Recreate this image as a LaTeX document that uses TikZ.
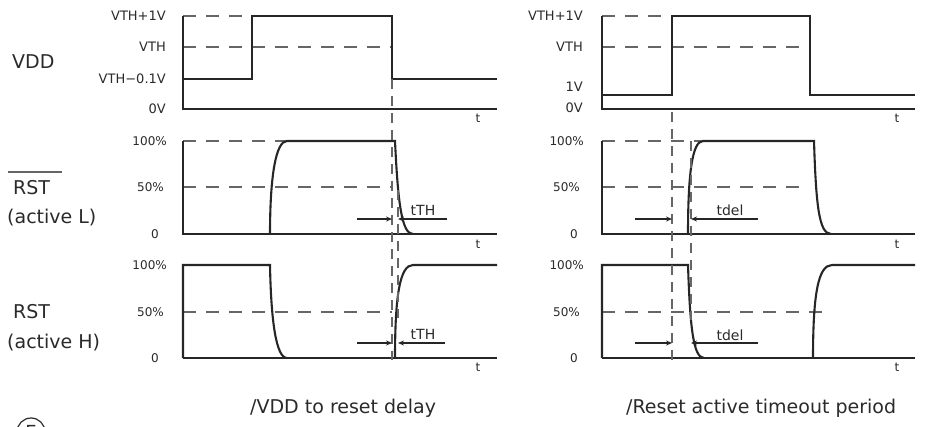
\documentclass[tikz,border=0pt]{standalone}
\usepackage{fontspec}
\setmainfont{DejaVu Sans}
\usetikzlibrary{arrows.meta}
\definecolor{ink}{HTML}{262626}
\definecolor{dashgray}{HTML}{666666}
\definecolor{txt}{HTML}{2A2A2A}
\begin{document}
\begin{tikzpicture}[x=1pt,y=-1pt,
  sig/.style={ink, line width=2.1pt, line join=miter},
  refline/.style={dashgray, line width=2.1pt, dash pattern=on 13pt off 10pt},
  vref/.style={dashgray, line width=1.9pt, dash pattern=on 10pt off 7pt},
  meas/.style={ink, line width=1.2pt, -{Stealth[length=6pt,width=5pt]}},
  lab/.style={text=txt, inner sep=0pt, font=\fontsize{13}{13}\selectfont},
  pct/.style={text=txt, inner sep=0pt, font=\fontsize{12}{12}\selectfont},
  big/.style={text=txt, inner sep=0pt, font=\fontsize{19}{19}\selectfont},
  tlab/.style={text=txt, inner sep=0pt, font=\fontsize{12}{12}\selectfont},
  dly/.style={text=txt, inner sep=0pt, font=\fontsize{14}{14}\selectfont},
  captext/.style={text=txt, inner sep=0pt, font=\fontsize{19}{19}\selectfont}]
\useasboundingbox (0,0) rectangle (925,427);

% ---------- row labels ----------
\node[big, anchor=west] (vdd) at (12,62) {VDD};
\node[big, anchor=west] (rstl) at (13,188) {RST};
\draw[dashgray, line width=2pt] (8,172) -- (62,172);
\node[big, anchor=west] (actl) at (7,218) {(active L)};
\node[big, anchor=west] (rsth) at (13,312) {RST};
\node[big, anchor=west] (acth) at (7,343) {(active H)};

% ---------- left axis labels ----------
\node[lab, anchor=east] (l1) at (166,16) {VTH+1V};
\node[lab, anchor=east] (l2) at (166,47) {VTH};
\node[lab, anchor=east] (l3) at (166,79) {VTH−0.1V};
\node[lab, anchor=east] (l4) at (166,109) {0V};
\node[pct, anchor=east] (l5) at (167,141) {100\%};
\node[pct, anchor=east] (l6) at (164,187) {50\%};
\node[pct] (l7) at (155,234) {0};
\node[pct, anchor=east] (l8) at (167,265) {100\%};
\node[pct, anchor=east] (l9) at (164,312) {50\%};
\node[pct] (l10) at (155,358) {0};

% ---------- right axis labels ----------
\node[lab, anchor=east] (r1) at (583,16) {VTH+1V};
\node[lab, anchor=east] (r2) at (583,47) {VTH};
\node[lab, anchor=east] (r3) at (583,87) {1V};
\node[lab, anchor=east] (r4) at (583,108) {0V};
\node[pct, anchor=east] (r5) at (584,141) {100\%};
\node[pct, anchor=east] (r6) at (580,187) {50\%};
\node[pct] (r7) at (574,234) {0};
\node[pct, anchor=east] (r8) at (584,265) {100\%};
\node[pct, anchor=east] (r9) at (580,312) {50\%};
\node[pct] (r10) at (574,358) {0};

% ---------- t labels ----------
\foreach \xx/\yy/\nm in {478/118/ta, 478/244/tb, 478/367/tc, 897/118/td, 897/244/te, 897/367/tf}
  \node[tlab] (\nm) at (\xx,\yy) {t};

% ================= LEFT =================
% VDD
\draw[refline] (183,16) -- (252,16);
\draw[refline] (183,47) -- (392,47);
\draw[sig] (183,16) -- (183,109) -- (497,109);
\draw[sig] (183,79) -- (252,79) -- (252,16) -- (392,16) -- (392,79) -- (497,79);
% RST active L
\draw[refline] (183,141) -- (287,141);
\draw[refline] (183,187) -- (392,187);
\draw[sig] (183,141) -- (183,234) -- (497,234);
\draw[sig] (270,234) .. controls (270,175) and (276,141) .. (287,141) -- (395,141)
  .. controls (398,205) and (402,234) .. (413,234);
% RST active H
\draw[refline] (183,312) -- (392,312);
\draw[sig] (183,358) -- (497,358);
\draw[sig] (183,358) -- (183,265) -- (270,265) .. controls (271,320) and (276,358) .. (287,358);
\draw[sig] (395,358) .. controls (395,295) and (400,265) .. (413,265) -- (497,265);
% timing guides
\coordinate (LA) at (392,79);
\coordinate (LB) at (392,360);
\coordinate (LC) at (398,190);
\coordinate (LD) at (398,318);
\draw[vref] (LA) -- (LB);
\draw[vref] (LC) -- (LD);
\coordinate (a1s) at (357,219); \coordinate (a1e) at (392,219);
\coordinate (a2s) at (447,219); \coordinate (a2e) at (398,219);
\coordinate (a3s) at (357,343); \coordinate (a3e) at (392,343);
\coordinate (a4s) at (445,343); \coordinate (a4e) at (398,343);
\draw[meas] (a1s) -- (a1e);
\draw[meas] (a2s) -- (a2e);
\draw[meas] (a3s) -- (a3e);
\draw[meas] (a4s) -- (a4e);
\node[dly] (tth1) at (423,210) {tTH};
\node[dly] (tth2) at (423,334) {tTH};

% ================= RIGHT =================
% VDD
\draw[refline] (602,16) -- (672,16);
\draw[refline] (602,47) -- (810,47);
\draw[sig] (602,16) -- (602,109) -- (915,109);
\draw[sig] (602,95) -- (672,95) -- (672,16) -- (810,16) -- (810,95) -- (915,95);
% RST active L
\draw[refline] (602,141) -- (703,141);
\draw[refline] (602,187) -- (808,187);
\draw[sig] (602,141) -- (602,234) -- (915,234);
\draw[sig] (688,234) .. controls (688,175) and (692,141) .. (703,141) -- (814,141)
  .. controls (816,205) and (819,234) .. (831,234);
% RST active H
\draw[refline] (602,312) -- (828,312);
\draw[sig] (602,358) -- (915,358);
\draw[sig] (602,358) -- (602,265) -- (688,265) .. controls (690,325) and (693,358) .. (704,358);
\draw[sig] (813,358) .. controls (813,295) and (818,265) .. (832,265) -- (915,265);
% timing guides
\coordinate (RA) at (672,112);
\coordinate (RB) at (672,360);
\coordinate (RC) at (691,141);
\coordinate (RD) at (691,320);
\draw[vref] (RA) -- (RB);
\draw[vref] (RC) -- (RD);
\coordinate (b1s) at (635,219); \coordinate (b1e) at (672,219);
\coordinate (b2s) at (758,219); \coordinate (b2e) at (691,219);
\coordinate (b3s) at (635,343); \coordinate (b3e) at (672,343);
\coordinate (b4s) at (758,343); \coordinate (b4e) at (691,343);
\draw[meas] (b1s) -- (b1e);
\draw[meas] (b2s) -- (b2e);
\draw[meas] (b3s) -- (b3e);
\draw[meas] (b4s) -- (b4e);
\node[dly] (td1) at (730,210) {tdel};
\node[dly] (td2) at (730,335) {tdel};

% ---------- captions ----------
\node[captext, anchor=west] (c1) at (250,408) {/VDD to reset delay};
\node[captext, anchor=west] (c2) at (626,408) {/Reset active timeout period};
\node[circle, draw=txt, line width=1.2pt, minimum size=28pt, inner sep=0pt, text=txt,
  font=\fontsize{18}{18}\selectfont] (circE) at (31,432) {E};
\end{tikzpicture}
\end{document}
